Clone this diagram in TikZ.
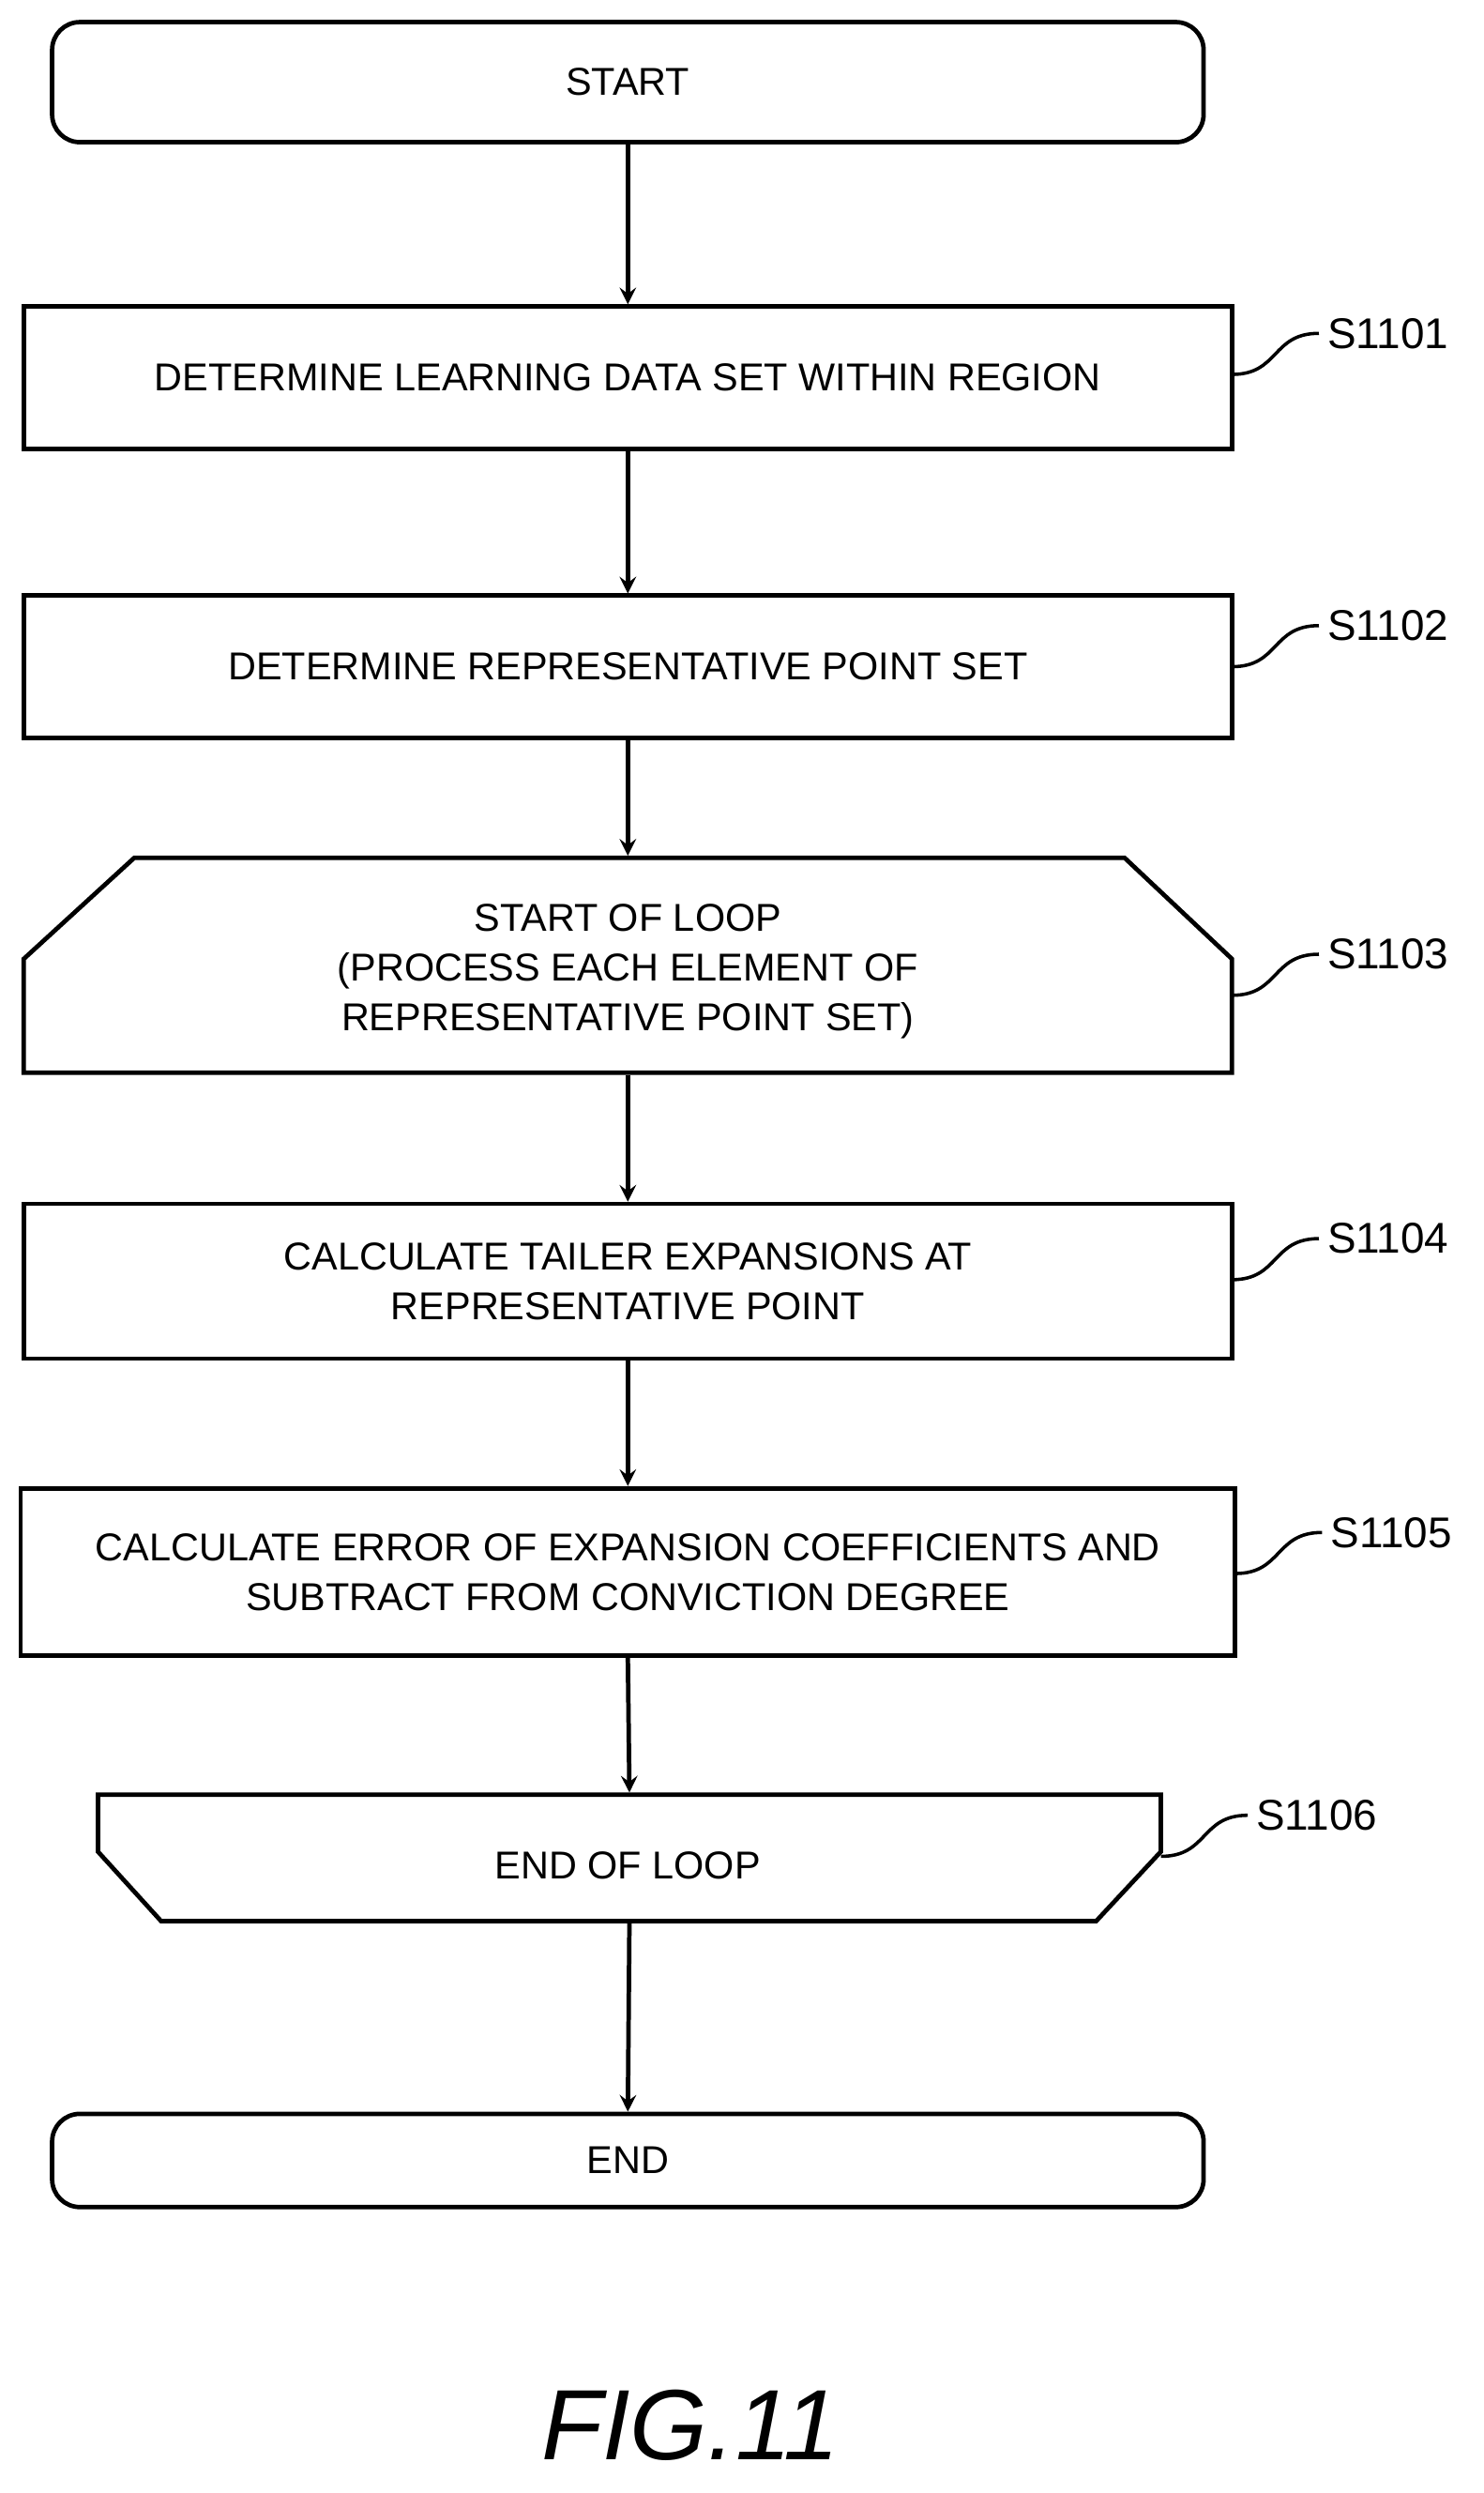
\documentclass[tikz,border=0pt]{standalone}
\usepackage{fontspec}
\setmainfont{Liberation Sans}
\begin{document}
\begin{tikzpicture}[x=0.02cm,y=-0.02cm,line width=1.6pt,
  box/.style={draw,rectangle,inner sep=0,font=\fontsize{14}{18}\selectfont,align=center},
  txt/.style={font=\fontsize{14}{18}\selectfont,align=center,inner sep=0},
  lab/.style={font=\fontsize{15.5}{19}\selectfont,anchor=west,inner sep=0},
  arr/.style={->,>=stealth}]
\useasboundingbox (0,0) rectangle (939,1578);
\node[box,rounded corners=10pt,minimum width=729*0.02cm,minimum height=76*0.02cm] (start) at (397.5,52) {START};
\node[box,minimum width=765*0.02cm,minimum height=90*0.02cm] (s1) at (397.5,239) {DETERMINE LEARNING DATA SET WITHIN REGION};
\node[box,minimum width=765*0.02cm,minimum height=90*0.02cm] (s2) at (397.5,422) {DETERMINE REPRESENTATIVE POINT SET};
\draw (85,543) -- (712,543) -- (780,607) -- (780,679) -- (15,679) -- (15,607) -- cycle;
\node[minimum width=765*0.02cm,minimum height=136*0.02cm,inner sep=0] (s3) at (397.5,611) {};
\node[txt] at (397.5,615) {START OF LOOP\\(PROCESS EACH ELEMENT OF\\REPRESENTATIVE POINT SET)};
\node[box,minimum width=765*0.02cm,minimum height=98*0.02cm] (s4) at (397.5,811) {CALCULATE TAILER EXPANSIONS AT\\REPRESENTATIVE POINT};
\node[box,minimum width=769*0.02cm,minimum height=106*0.02cm] (s5) at (397.5,995) {CALCULATE ERROR OF EXPANSION COEFFICIENTS AND\\SUBTRACT FROM CONVICTION DEGREE};
\draw (62,1136) -- (735,1136) -- (735,1172) -- (694,1216) -- (102,1216) -- (62,1172) -- cycle;
\node[minimum width=673*0.02cm,minimum height=80*0.02cm,inner sep=0] (s6) at (398.5,1176) {};
\node[txt] at (397.5,1181) {END OF LOOP};
\node[box,rounded corners=10pt,minimum width=729*0.02cm,minimum height=59*0.02cm] (end) at (397.5,1367.5) {END};
\foreach \a/\b in {start/s1,s1/s2,s2/s3,s3/s4,s4/s5,s5/s6,s6/end}
  \draw[arr] (\a.south) -- (\b.north);
\foreach \n/\x/\y/\t in {a/780/237/S1101,b/780/422/S1102,c/780/630/S1103,d/780/810/S1104,e/782/996/S1105,f/735/1175/S1106}{
  \coordinate (\n0) at (\x,\y);
  \coordinate (\n1) at (\x+55,\y-26);
  \draw[line width=1.2pt] (\n0) .. controls (\x+30,\y) and (\x+25,\y-26) .. (\n1);
  \node[lab] (\n) at (\x+59,\y-26) {\t};
}
\node[font=\fontsize{36}{42}\selectfont\itshape] (fig) at (437,1535) {FIG.11};
\end{tikzpicture}
\end{document}
